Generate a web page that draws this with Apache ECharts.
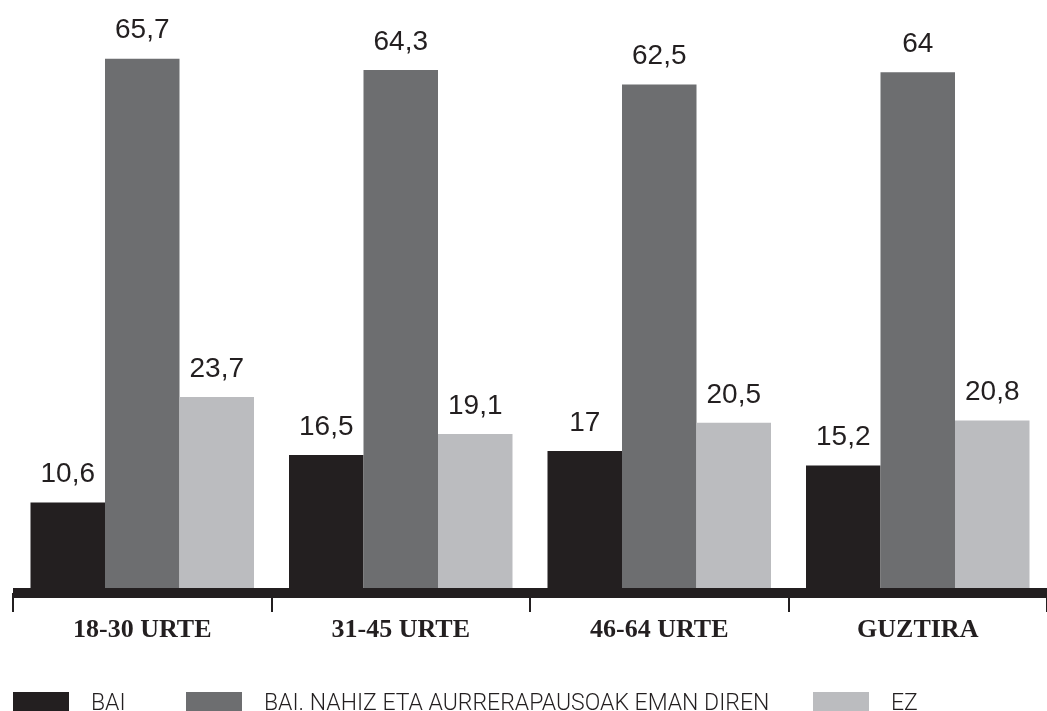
<!DOCTYPE html>
<html>
<head>
<meta charset="utf-8">
<script src="https://cdn.jsdelivr.net/npm/echarts@6/dist/echarts.min.js"></script>
<style>
  html, body { margin: 0; padding: 0; background: #fff; }
  #chart { width: 1047px; height: 711px; }
</style>
</head>
<body>
<div id="chart"></div>
<script>
const categories = ['18-30 URTE', '31-45 URTE', '46-64 URTE', 'GUZTIRA'];
const seriesNames = ['BAI', 'BAI. NAHIZ ETA AURRERAPAUSOAK EMAN DIREN', 'EZ'];
const bai = [10.6, 16.5, 17, 15.2];
const baiNahiz = [65.7, 64.3, 62.5, 64];
const ez = [23.7, 19.1, 20.5, 20.8];

const colors = ['#231f20', '#6d6e70', '#bbbcbf'];
const legendLeft = [13, 186, 813];

const chart = echarts.init(document.getElementById('chart'));

// etiketak: 10,6 formatua (koma hamartarra)
const label = {
  show: true,
  position: 'top',
  distance: 14,
  fontFamily: 'Liberation Sans',
  fontSize: 28,
  color: '#231f20',
  formatter: (p) => String(p.value).replace('.', ','),
};

const makeSeries = (name, data, i) => ({
  name,
  type: 'bar',
  data,
  barWidth: 74.5,
  barGap: '0%',
  itemStyle: { color: colors[i] },
  label,
});

const option = {
  backgroundColor: '#fff',
  animation: false,
  grid: {
    left: 13,
    right: -4,
    top: 24,
    bottom: 123,
  },
  legend: seriesNames.map((name, i) => ({
    data: [name],
    left: legendLeft[i],
    top: 692,
    padding: 0,
    itemWidth: 56,
    itemHeight: 25,
    icon: 'rect',
    textStyle: {
      fontFamily: 'Roboto',
      fontWeight: 300,
      fontSize: 23,
      color: '#231f20',
      padding: [0, 0, 0, 17],
    },
  })),
  xAxis: {
    type: 'category',
    data: categories,
    offset: 5,
    z: 10,
    axisLine: { onZero: false, lineStyle: { color: '#231f20', width: 10, cap: 'butt' } },
    axisTick: { show: true, length: 19, lineStyle: { color: '#231f20', width: 2 } },
    axisLabel: {
      margin: 24,
      fontFamily: 'Liberation Serif',
      fontWeight: 'bold',
      fontSize: 26,
      color: '#231f20',
    },
  },
  yAxis: {
    type: 'value',
    min: 0,
    max: 70,
    show: false,
  },
  series: [
    makeSeries(seriesNames[0], bai, 0),
    makeSeries(seriesNames[1], baiNahiz, 1),
    makeSeries(seriesNames[2], ez, 2),
  ],
};

chart.setOption(option);
</script>
</body>
</html>
